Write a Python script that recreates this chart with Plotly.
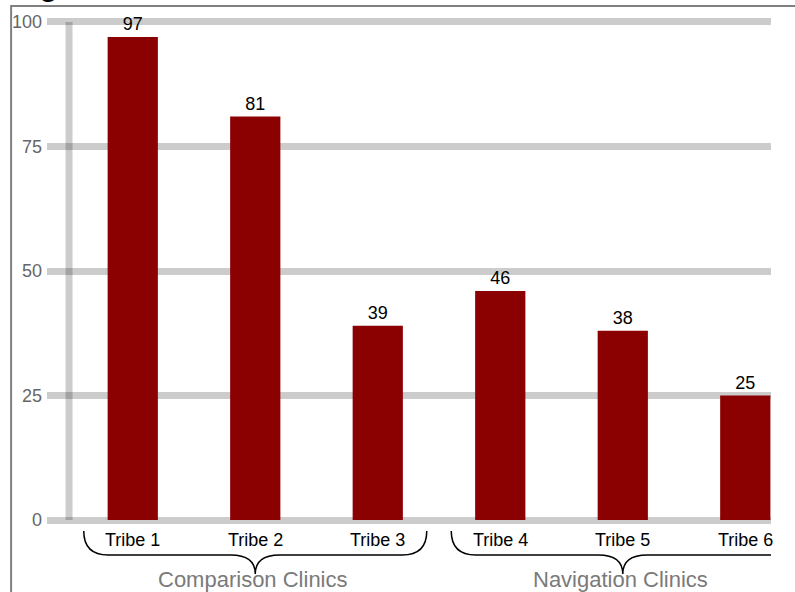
import plotly.graph_objects as go

# ---- data ----
tribes = ["Tribe 1", "Tribe 2", "Tribe 3", "Tribe 4", "Tribe 5", "Tribe 6"]
patients = [97, 81, 39, 46, 38, 25]
groups = ["Comparison Clinics", "Navigation Clinics"]
group_centers = [1, 4]          # category index at the middle of each group
y_ticks = [0, 25, 50, 75, 100]
title_text = "Figure 1. Cancer Patient Totals"

# ---- layout geometry ----
W, H = 795, 592
Y0PIX, Y100PIX = 520, 22          # pixel rows of the 0 and 100 gridlines
PAD = 0.8                         # axis range padding (data units)
UNIT = (Y0PIX - Y100PIX) / 100.0
ML, MR = 45, 24
MT = Y100PIX - PAD * UNIT
MB = H - (Y0PIX + PAD * UNIT)
PH = H - MT - MB
PW = W - ML - MR

def py(p):  # pixel y -> paper y
    return (H - MB - p) / PH

def px(p):  # pixel x -> paper x
    return (p - ML) / PW

grid = "rgba(0,0,0,0.2)"
font = "Liberation Sans, Arial, sans-serif"

fig = go.Figure()
fig.add_trace(go.Bar(
    x=tribes, y=patients, width=0.41,
    marker=dict(color="#8b0000", line=dict(width=0)),
    text=patients, textposition="outside",
    textfont=dict(size=18, color="black", family=font),
    cliponaxis=False, hoverinfo="skip",
))

shapes = []
# frame around the figure
shapes.append(dict(type="rect", xref="paper", yref="paper",
                   x0=px(9), x1=1.2, y0=-0.3, y1=py(6),
                   line=dict(color="#808080", width=2), layer="below"))
# thick vertical axis bar
shapes.append(dict(type="line", xref="x", yref="y", x0=-0.52, x1=-0.52,
                   y0=0, y1=100, line=dict(color=grid, width=7), layer="below"))

# curly braces under each group
half = 1.40
r = 0.2
yt, yh, ytip = py(531), py(555), py(574)
for c in group_centers:
    xl, xr = c - half, c + half
    path = (f"M {xl},{yt} Q {xl},{yh} {xl+r},{yh} L {c-r},{yh} "
            f"Q {c},{yh} {c},{ytip} Q {c},{yh} {c+r},{yh} "
            f"L {xr-r},{yh} Q {xr},{yh} {xr},{yt}")
    shapes.append(dict(type="path", xref="x", yref="paper", path=path,
                       line=dict(color="black", width=1.5)))

annotations = []
# category labels
for t in tribes:
    annotations.append(dict(text=t, x=t, xref="x", y=py(540), yref="paper",
                            showarrow=False, xanchor="center", yanchor="middle",
                            font=dict(size=18, color="black", family=font)))
# group labels
for g, c in zip(groups, group_centers):
    annotations.append(dict(text=g, x=c - 0.02, xref="x", y=py(579), yref="paper",
                            showarrow=False, xanchor="center", yanchor="middle",
                            font=dict(size=22, color="#7a7a7a", family=font)))
# title (mostly above the visible page, as in the reference)
annotations.append(dict(text="<b>" + title_text + "</b>", x=px(10), xref="paper",
                        y=py(4), yref="paper", xanchor="left", yanchor="bottom",
                        showarrow=False,
                        font=dict(size=29, color="black", family=font)))

fig.update_layout(
    width=W, height=H,
    margin=dict(l=ML, r=MR, t=MT, b=MB),
    paper_bgcolor="white", plot_bgcolor="white",
    showlegend=False,
    shapes=shapes, annotations=annotations,
    font=dict(family=font),
    xaxis=dict(type="category", categoryarray=tribes, range=[-0.70, 5.21],
               showgrid=False, zeroline=False, showline=False, ticks="",
               showticklabels=False),
    yaxis=dict(range=[-PAD, 100 + PAD], tickvals=y_ticks, showgrid=True,
               gridcolor=grid, gridwidth=7, zeroline=False, showline=False,
               ticks="", tickfont=dict(size=18, color="#666666", family=font),
               ticklabelstandoff=4),
)

fig.write_html("out.html")
